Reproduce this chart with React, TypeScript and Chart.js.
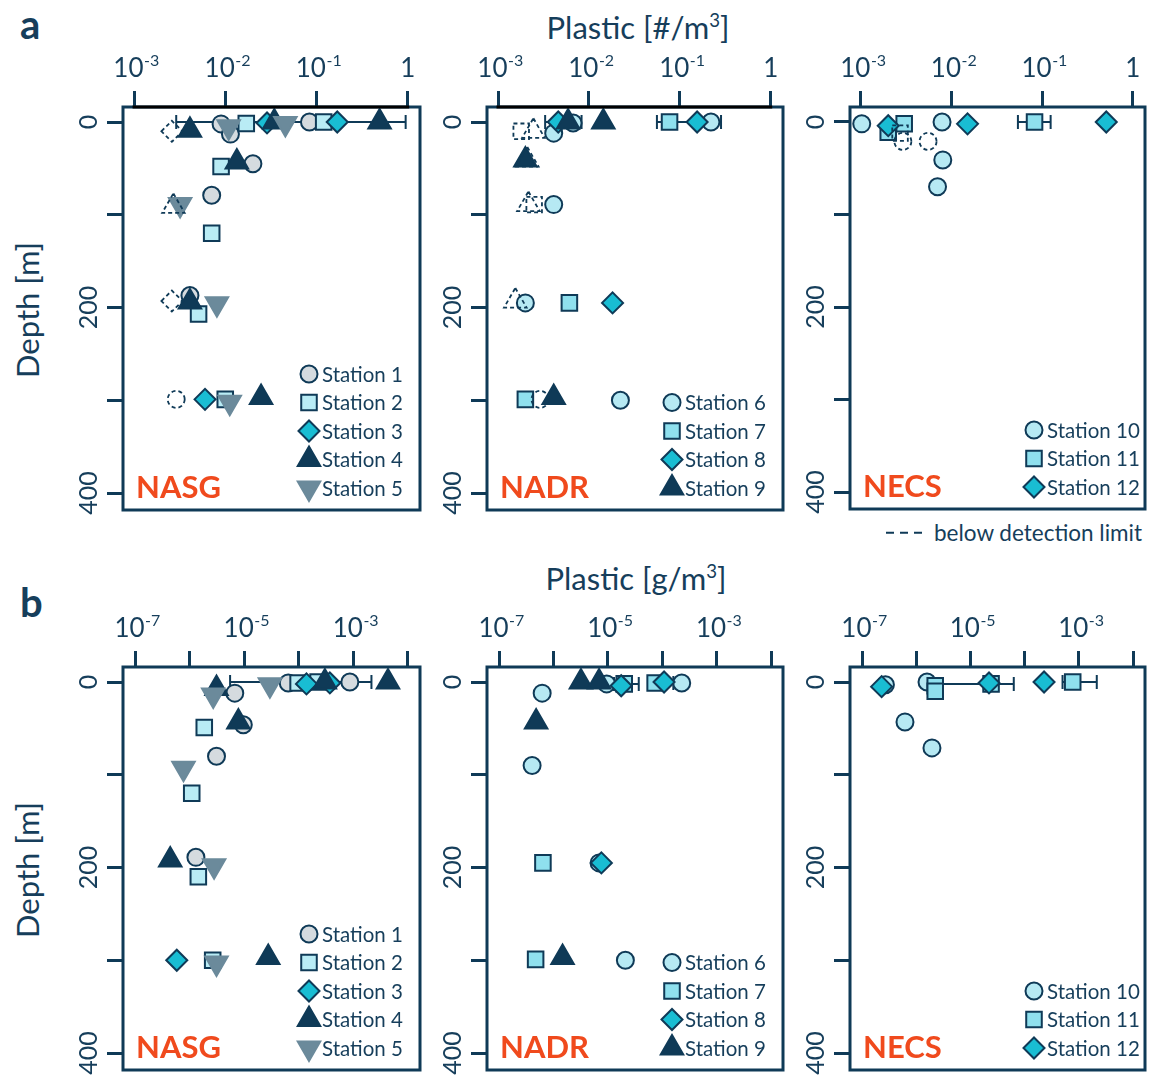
import React, { useEffect, useRef } from 'react';
import { Chart, registerables } from 'chart.js';

Chart.register(...registerables);

type Pt = [number, number]; // [concentration, depth (m)]
type Err = [number, number, number]; // [depth, lower, upper]
type Shape = 'circle' | 'rect' | 'rectRot' | 'triangle' | 'down';

// ---------------- tick labels ----------------
const COUNT_TICK_EXP = [-3, -2, -1, 0];
const COUNT_LABEL_EXP = [-3, -2, -1, 0];
const MASS_TICK_EXP = [-7, -6, -5, -4, -3, -2];
const MASS_LABEL_EXP = [-7, -5, -3];
const DEPTH_TICKS = [0, 100, 200, 300, 400];
const DEPTH_LABELS = [0, 200, 400];

const NASG_STATIONS = ['Station 1', 'Station 2', 'Station 3', 'Station 4', 'Station 5'];
const NADR_STATIONS = ['Station 6', 'Station 7', 'Station 8', 'Station 9'];
const NECS_STATIONS = ['Station 10', 'Station 11', 'Station 12'];

// ---------------- a: plastic [#/m3] ----------------
const A_S1: Pt[] = [[0.009, 2], [0.0114, 13], [0.0838, 0], [0.0201, 45], [0.0071, 79], [0.0041, 187]];
const A_S2: Pt[] = [[0.017, 1.5], [0.12, 0], [0.009, 48], [0.0071, 120], [0.0051, 207], [0.01, 299]];
const A_S3: Pt[] = [[0.0287, 1], [0.169, 0], [0.006, 299]];
const A_S4: Pt[] = [[0.0041, 9], [0.0345, 0], [0.492, 0], [0.0134, 43], [0.0041, 194], [0.0247, 297]];
const A_S5: Pt[] = [[0.0109, 5], [0.0456, 1.5], [0.0032, 89], [0.0081, 196], [0.0112, 302]];
const A_NASG_BDL: Pt[] = [[0.0029, 299], [0.0026, 10], [0.0027, 91], [0.0026, 193]];
const A_NASG_BDL_SHAPE: Shape[] = ['circle', 'rectRot', 'triangle', 'rectRot'];
const A_NASG_ERR: Err[] = [[0, 0.0029, 0.95]];

const A_S6: Pt[] = [[0.0041, 12], [0.0067, 1], [0.22, 0], [0.0041, 89], [0.002, 195], [0.0222, 300]];
const A_S7: Pt[] = [[0.0771, 0], [0.0061, 195], [0.002, 299]];
const A_S8: Pt[] = [[0.0046, 0], [0.155, 0], [0.0182, 195]];
const A_S9: Pt[] = [[0.0059, 0], [0.0144, 0], [0.002, 41], [0.0041, 297]];
const A_NADR_BDL: Pt[] = [[0.0018, 10], [0.00245, 10], [0.0021, 41], [0.00216, 89], [0.0025, 89], [0.00155, 193], [0.0029, 299]];
const A_NADR_BDL_SHAPE: Shape[] = ['rect', 'triangle', 'triangle', 'triangle', 'rect', 'triangle', 'circle'];
const A_NADR_ERR: Err[] = [[0, 0.0033, 0.0083], [0, 0.056, 0.284]];

const A_S10: Pt[] = [[0.00102, 2], [0.00785, 0], [0.008, 41], [0.007, 70]];
const A_S11: Pt[] = [[0.002, 11], [0.003, 2], [0.0824, 0]];
const A_S12: Pt[] = [[0.002, 4], [0.015, 2], [0.51, 0]];
const A_NECS_BDL: Pt[] = [[0.0029, 21], [0.0055, 21], [0.0027, 12]];
const A_NECS_BDL_SHAPE: Shape[] = ['circle', 'circle', 'rect'];
const A_NECS_ERR: Err[] = [[0, 0.054, 0.124]];

// ---------------- b: plastic [g/m3] ----------------
const B_S1: Pt[] = [[6.7e-6, 12], [6.4e-5, 1], [8.6e-4, 0], [9.6e-6, 46], [3.1e-6, 80], [1.3e-6, 189]];
const B_S2: Pt[] = [[9.7e-5, 1], [2.25e-4, 0], [1.85e-6, 49], [1.09e-6, 120], [1.44e-6, 210], [2.64e-6, 300]];
const B_S3: Pt[] = [[1.38e-4, 2], [3.7e-4, 1], [5.8e-7, 300]];
const B_S4: Pt[] = [[3.1e-6, 7], [3.0e-4, 0], [4.3e-3, 0], [7.8e-6, 43], [4.4e-7, 192], [2.75e-5, 297]];
const B_S5: Pt[] = [[2.7e-6, 14], [2.95e-5, 3], [7.7e-7, 93], [2.8e-6, 198], [3.1e-6, 303]];
const B_NASG_ERR: Err[] = [[0, 5.5e-6, 2.14e-3]];

const B_S6: Pt[] = [[9.5e-6, 2], [2.28e-4, 1], [6.2e-7, 12], [4.05e-7, 90], [6.9e-6, 195], [2.1e-5, 300]];
const B_S7: Pt[] = [[2.0e-5, 2], [7.4e-5, 1], [6.4e-7, 195], [4.7e-7, 299]];
const B_S8: Pt[] = [[1.76e-5, 4], [1.08e-4, 0], [7.6e-6, 195]];
const B_S9: Pt[] = [[3.2e-6, 0], [6.9e-6, 0], [4.8e-7, 43], [1.47e-6, 297]];
const B_NADR_ERR: Err[] = [[2, 1.3e-5, 3.7e-5], [1, 5.6e-5, 1.6e-4]];

const B_S10: Pt[] = [[2.7e-7, 3], [1.58e-6, 0], [6.2e-7, 43], [1.95e-6, 71]];
const B_S11: Pt[] = [[2.24e-6, 4], [2.24e-6, 10], [2.4e-5, 2], [7.7e-4, 0]];
const B_S12: Pt[] = [[2.3e-7, 5], [2.2e-5, 1], [2.28e-4, 0]];
const B_NECS_ERR: Err[] = [[2, 2.24e-6, 6.3e-5], [0, 5.0e-4, 2.14e-3]];

// ---------------- styles ----------------
const NAVY = '#0f3a57';
const TEXT = '#163e5b';
const RED = '#f04a1d';
const FONT = 'Lato, "Open Sans", sans-serif';

interface Sty { shape: Shape; fill: string; border: string; r: number }
const RADII: Record<Shape, number> = { circle: 8.5, rect: 11, rectRot: 10.5, triangle: 13, down: 13 };
const mk = (shape: Shape, fill: string, border = NAVY): Sty => ({ shape, fill, border, r: RADII[shape] });
const ST1 = mk('circle', '#d5dbdf');
const ST2 = mk('rect', '#b9ecf5');
const ST3 = mk('rectRot', '#19bdd3');
const ST4 = mk('triangle', NAVY);
const ST5 = mk('down', '#6b8a9b', '#6b8a9b');
const ST6 = mk('circle', '#b6e9f3');
const ST7 = mk('rect', '#8fe0ee');
const ST8 = mk('rectRot', '#19bdd3');
const ST9 = mk('triangle', NAVY);
const ST10 = mk('circle', '#b6e9f3');
const ST11 = mk('rect', '#8fe0ee');
const ST12 = mk('rectRot', '#19bdd3');

interface Series { label: string; sty: Sty; pts: Pt[] }
interface PanelDef {
  box: [number, number, number, number];
  kind: 'count' | 'mass';
  region: string;
  blackTop: boolean;
  series: Series[];
  bdl: Pt[];
  bdlShape: Shape[];
  errs: Err[];
}

const PANELS: PanelDef[] = [
  {
    box: [123, 107, 420, 510], kind: 'count', region: 'NASG', blackTop: true,
    series: [
      { label: NASG_STATIONS[0], sty: ST1, pts: A_S1 },
      { label: NASG_STATIONS[1], sty: ST2, pts: A_S2 },
      { label: NASG_STATIONS[2], sty: ST3, pts: A_S3 },
      { label: NASG_STATIONS[3], sty: ST4, pts: A_S4 },
      { label: NASG_STATIONS[4], sty: ST5, pts: A_S5 },
    ],
    bdl: A_NASG_BDL, bdlShape: A_NASG_BDL_SHAPE, errs: A_NASG_ERR,
  },
  {
    box: [487, 107, 783, 510], kind: 'count', region: 'NADR', blackTop: true,
    series: [
      { label: NADR_STATIONS[0], sty: ST6, pts: A_S6 },
      { label: NADR_STATIONS[1], sty: ST7, pts: A_S7 },
      { label: NADR_STATIONS[2], sty: ST8, pts: A_S8 },
      { label: NADR_STATIONS[3], sty: ST9, pts: A_S9 },
    ],
    bdl: A_NADR_BDL, bdlShape: A_NADR_BDL_SHAPE, errs: A_NADR_ERR,
  },
  {
    box: [850, 107, 1145, 509], kind: 'count', region: 'NECS', blackTop: false,
    series: [
      { label: NECS_STATIONS[0], sty: ST10, pts: A_S10 },
      { label: NECS_STATIONS[1], sty: ST11, pts: A_S11 },
      { label: NECS_STATIONS[2], sty: ST12, pts: A_S12 },
    ],
    bdl: A_NECS_BDL, bdlShape: A_NECS_BDL_SHAPE, errs: A_NECS_ERR,
  },
  {
    box: [123, 667, 420, 1070], kind: 'mass', region: 'NASG', blackTop: false,
    series: [
      { label: NASG_STATIONS[0], sty: ST1, pts: B_S1 },
      { label: NASG_STATIONS[1], sty: ST2, pts: B_S2 },
      { label: NASG_STATIONS[2], sty: ST3, pts: B_S3 },
      { label: NASG_STATIONS[3], sty: ST4, pts: B_S4 },
      { label: NASG_STATIONS[4], sty: ST5, pts: B_S5 },
    ],
    bdl: [], bdlShape: [], errs: B_NASG_ERR,
  },
  {
    box: [487, 667, 783, 1070], kind: 'mass', region: 'NADR', blackTop: false,
    series: [
      { label: NADR_STATIONS[0], sty: ST6, pts: B_S6 },
      { label: NADR_STATIONS[1], sty: ST7, pts: B_S7 },
      { label: NADR_STATIONS[2], sty: ST8, pts: B_S8 },
      { label: NADR_STATIONS[3], sty: ST9, pts: B_S9 },
    ],
    bdl: [], bdlShape: [], errs: B_NADR_ERR,
  },
  {
    box: [850, 667, 1145, 1070], kind: 'mass', region: 'NECS', blackTop: false,
    series: [
      { label: NECS_STATIONS[0], sty: ST10, pts: B_S10 },
      { label: NECS_STATIONS[1], sty: ST11, pts: B_S11 },
      { label: NECS_STATIONS[2], sty: ST12, pts: B_S12 },
    ],
    bdl: [], bdlShape: [], errs: B_NECS_ERR,
  },
];

const PADL = 72, PADT = 72, PADR = 8, PADB = 6;
const BDL_LABEL = 'below detection limit';

function shapePath(ctx: CanvasRenderingContext2D, shape: Shape, x: number, y: number, r: number) {
  ctx.beginPath();
  if (shape === 'circle') {
    ctx.arc(x, y, r, 0, Math.PI * 2);
  } else if (shape === 'rect') {
    const s = Math.SQRT1_2 * r;
    ctx.rect(x - s, y - s, 2 * s, 2 * s);
  } else if (shape === 'rectRot') {
    ctx.moveTo(x - r, y); ctx.lineTo(x, y - r); ctx.lineTo(x + r, y); ctx.lineTo(x, y + r); ctx.closePath();
  } else {
    let rad = shape === 'down' ? Math.PI : 0;
    ctx.moveTo(x + Math.sin(rad) * r, y - Math.cos(rad) * r);
    rad += (2 * Math.PI) / 3;
    ctx.lineTo(x + Math.sin(rad) * r, y - Math.cos(rad) * r);
    rad += (2 * Math.PI) / 3;
    ctx.lineTo(x + Math.sin(rad) * r, y - Math.cos(rad) * r);
    ctx.closePath();
  }
}

function drawPow(ctx: CanvasRenderingContext2D, e: number, px: number, baseY: number) {
  const big = `26px ${FONT}`;
  const small = `16px ${FONT}`;
  ctx.fillStyle = TEXT;
  if (e === 0) {
    ctx.font = big; ctx.textAlign = 'center';
    ctx.fillText('1', px, baseY);
    return;
  }
  ctx.font = big;
  const w1 = ctx.measureText('10').width;
  ctx.font = small;
  const sup = String(e);
  const w2 = ctx.measureText(sup).width;
  const start = px - (w1 + w2) / 2 + 2;
  ctx.textAlign = 'left';
  ctx.font = big; ctx.fillText('10', start, baseY);
  ctx.font = small; ctx.fillText(sup, start + w1 + 0.5, baseY - 11);
}

function buildConfig(def: PanelDef): any {
  const isCount = def.kind === 'count';
  const xMin = isCount ? Math.pow(10, -3.121) : Math.pow(10, -7.22);
  const xMax = isCount ? Math.pow(10, 0.135) : Math.pow(10, -1.78);
  const tickExp = isCount ? COUNT_TICK_EXP : MASS_TICK_EXP;
  const labelExp = isCount ? COUNT_LABEL_EXP : MASS_LABEL_EXP;

  const datasets: any[] = def.series.map((s, i) => ({
    label: s.label,
    data: s.pts.map(([x, y]) => ({ x, y })),
    order: -i,
    pointStyle: s.sty.shape === 'down' ? 'triangle' : s.sty.shape,
    pointRotation: s.sty.shape === 'down' ? 180 : 0,
    pointRadius: s.sty.r,
    pointHoverRadius: s.sty.r,
    pointBackgroundColor: s.sty.fill,
    pointBorderColor: s.sty.border,
    pointBorderWidth: 2,
    showLine: false,
  }));
  if (def.bdl.length) {
    datasets.push({
      label: BDL_LABEL,
      data: def.bdl.map(([x, y]) => ({ x, y })),
      order: -100,
      pointStyle: def.bdlShape.map((s) => (s === 'down' ? 'triangle' : s)),
      pointRotation: def.bdlShape.map((s) => (s === 'down' ? 180 : 0)),
      pointRadius: def.bdlShape.map((s) => RADII[s]),
      pointHoverRadius: def.bdlShape.map((s) => RADII[s]),
      pointBackgroundColor: 'rgba(255,255,255,0)',
      pointBorderColor: NAVY,
      pointBorderWidth: 1.8,
      showLine: false,
    });
  }

  const errorBars = {
    id: 'errorBars',
    beforeDatasetsDraw(chart: any) {
      const { ctx, scales } = chart;
      ctx.save();
      ctx.strokeStyle = NAVY;
      ctx.lineWidth = 2;
      def.errs.forEach(([d, lo, hi]) => {
        const y = scales.y.getPixelForValue(d);
        const x1 = scales.x.getPixelForValue(lo);
        const x2 = scales.x.getPixelForValue(hi);
        ctx.beginPath();
        ctx.moveTo(x1, y); ctx.lineTo(x2, y);
        ctx.moveTo(x1, y - 7); ctx.lineTo(x1, y + 7);
        ctx.moveTo(x2, y - 7); ctx.lineTo(x2, y + 7);
        ctx.stroke();
      });
      ctx.restore();
    },
  };

  const dash = {
    id: 'bdlDash',
    beforeDatasetDraw(chart: any, args: any) {
      if (chart.data.datasets[args.index].label === BDL_LABEL) chart.ctx.setLineDash([4, 3]);
    },
    afterDatasetDraw(chart: any) {
      chart.ctx.setLineDash([]);
    },
  };

  const frame = {
    id: 'frame',
    afterDraw(chart: any) {
      const { ctx, chartArea: ca, scales } = chart;
      ctx.save();
      ctx.strokeStyle = NAVY;
      ctx.lineWidth = 3;
      ctx.strokeRect(ca.left, ca.top, ca.right - ca.left, ca.bottom - ca.top);
      if (def.blackTop) {
        ctx.strokeStyle = '#000';
        ctx.beginPath();
        ctx.moveTo(scales.x.getPixelForValue(Math.pow(10, tickExp[0])) - 1.5, ca.top);
        ctx.lineTo(scales.x.getPixelForValue(Math.pow(10, tickExp[tickExp.length - 1])) + 1.5, ca.top);
        ctx.stroke();
      }
      // x tick labels
      labelExp.forEach((e) => drawPow(ctx, e, scales.x.getPixelForValue(Math.pow(10, e)), ca.top - 30));
      // y tick labels (rotated)
      ctx.font = `25px ${FONT}`;
      ctx.fillStyle = TEXT;
      DEPTH_LABELS.forEach((v) => {
        const py = scales.y.getPixelForValue(v);
        ctx.save();
        ctx.translate(ca.left - 26, py);
        ctx.rotate(-Math.PI / 2);
        ctx.textAlign = 'center';
        ctx.textBaseline = 'alphabetic';
        ctx.fillText(String(v), 0, 0);
        ctx.restore();
      });
      // region label
      ctx.font = `bold 31px ${FONT}`;
      ctx.fillStyle = RED;
      ctx.textAlign = 'left';
      ctx.textBaseline = 'alphabetic';
      ctx.fillText(def.region, ca.left + 13, ca.bottom - 12);
      // legend
      const n = def.series.length;
      ctx.font = `20.5px ${FONT}`;
      ctx.textBaseline = 'middle';
      def.series.forEach((s, k) => {
        const y = ca.bottom - 22 - 28.5 * (n - 1 - k);
        const x = ca.right - 111;
        shapePath(ctx, s.sty.shape, x, y, s.sty.r);
        ctx.fillStyle = s.sty.fill;
        ctx.fill();
        ctx.lineWidth = 2;
        ctx.strokeStyle = s.sty.border;
        ctx.stroke();
        ctx.fillStyle = TEXT;
        ctx.fillText(s.label, ca.right - 98, y + 1);
      });
      ctx.restore();
    },
  };

  const gridOpts = {
    display: true,
    drawOnChartArea: false,
    drawTicks: true,
    tickLength: 16,
    color: NAVY,
    lineWidth: 3,
  };

  return {
    type: 'scatter',
    data: { datasets },
    options: {
      animation: false,
      responsive: false,
      maintainAspectRatio: false,
      events: [],
      layout: { autoPadding: false, padding: { left: 0, top: 0, right: PADR, bottom: PADB } },
      plugins: { legend: { display: false }, tooltip: { enabled: false } },
      scales: {
        x: {
          type: 'logarithmic',
          position: 'top',
          min: xMin,
          max: xMax,
          afterBuildTicks: (s: any) => { s.ticks = tickExp.map((e) => ({ value: Math.pow(10, e) })); },
          afterFit: (s: any) => { s.height = PADT; },
          ticks: { display: false },
          grid: gridOpts,
          border: { display: false },
        },
        y: {
          type: 'linear',
          position: 'left',
          reverse: true,
          min: -16.2,
          max: 418.3,
          afterBuildTicks: (s: any) => { s.ticks = DEPTH_TICKS.map((v) => ({ value: v })); },
          afterFit: (s: any) => { s.width = PADL; },
          ticks: { display: false },
          grid: gridOpts,
          border: { display: false },
        },
      },
    },
    plugins: [errorBars, dash, frame],
  };
}

function Panel({ def }: { def: PanelDef }) {
  const ref = useRef<HTMLCanvasElement>(null);
  const [l, t, r, b] = def.box;
  const W = r - l + PADL + PADR;
  const H = b - t + PADT + PADB;
  useEffect(() => {
    const chart = new Chart(ref.current as HTMLCanvasElement, buildConfig(def));
    return () => chart.destroy();
  }, [def]);
  return (
    <canvas
      ref={ref}
      width={W}
      height={H}
      style={{ position: 'absolute', left: l - PADL, top: t - PADT, width: W, height: H }}
    />
  );
}

const txt: React.CSSProperties = {
  position: 'absolute',
  fontFamily: FONT,
  color: TEXT,
  whiteSpace: 'nowrap',
  lineHeight: 1,
};

export default function App() {
  return (
    <div style={{ position: 'absolute', left: 0, top: 0, width: 1160, height: 1081, background: '#fff', overflow: 'hidden' }}>
      <div style={{ ...txt, left: 20, top: 4, fontSize: 40, fontWeight: 700 }}>a</div>
      <div style={{ ...txt, left: 20, top: 582, fontSize: 40, fontWeight: 700 }}>b</div>
      <div style={{ ...txt, left: 638, top: 27, fontSize: 31, transform: 'translate(-50%, -50%)' }}>
        Plastic [#/m<sup style={{ fontSize: '0.6em', lineHeight: 0 }}>3</sup>]
      </div>
      <div style={{ ...txt, left: 636, top: 578, fontSize: 31, transform: 'translate(-50%, -50%)' }}>
        Plastic [g/m<sup style={{ fontSize: '0.6em', lineHeight: 0 }}>3</sup>]
      </div>
      <div style={{ ...txt, left: 27, top: 310, fontSize: 31, transform: 'translate(-50%, -50%) rotate(-90deg)' }}>Depth [m]</div>
      <div style={{ ...txt, left: 27, top: 870, fontSize: 31, transform: 'translate(-50%, -50%) rotate(-90deg)' }}>Depth [m]</div>
      <div style={{ ...txt, left: 886, top: 533, fontSize: 22.5, transform: 'translateY(-50%)', display: 'flex', alignItems: 'center' }}>
        <svg width={40} height={4} style={{ marginRight: 8 }}>
          <line x1={0} y1={2} x2={36} y2={2} stroke={NAVY} strokeWidth={2} strokeDasharray="8 6" />
        </svg>
        <span>{BDL_LABEL}</span>
      </div>
      {PANELS.map((p, i) => (
        <Panel key={i} def={p} />
      ))}
    </div>
  );
}
